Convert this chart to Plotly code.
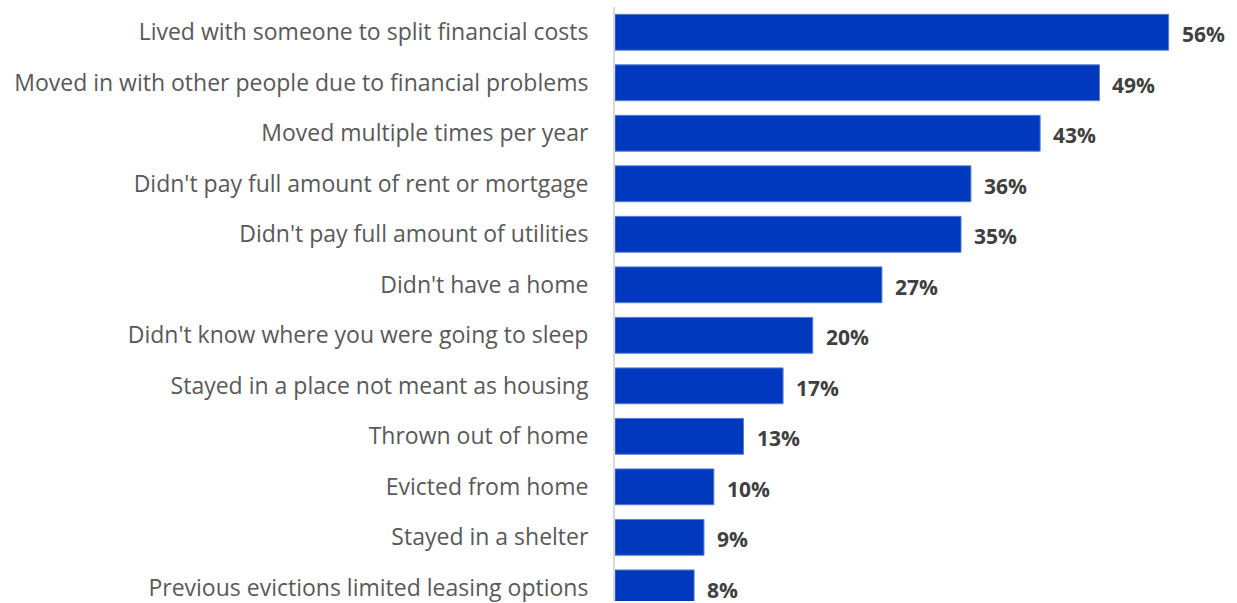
import plotly.graph_objects as go

BAR_COLOR = "#0039BD"
LABEL_COLOR = "#595959"
VALUE_COLOR = "#404040"
FONT = "Open Sans"

categories = [
    "Lived with someone to split financial costs",
    "Moved in with other people due to financial problems",
    "Moved multiple times per year",
    "Didn't pay full amount of rent or mortgage",
    "Didn't pay full amount of utilities",
    "Didn't have a home",
    "Didn't know where you were going to sleep",
    "Stayed in a place not meant as housing",
    "Thrown out of home",
    "Evicted from home",
    "Stayed in a shelter",
    "Previous evictions limited leasing options",
]
values = [56, 49, 43, 36, 35, 27, 20, 17, 13, 10, 9, 8]
value_labels = [f"{v}%" for v in values]

fig = go.Figure(
    go.Bar(
        x=values,
        y=categories,
        orientation="h",
        marker=dict(color=BAR_COLOR, line=dict(color="#5B7FD6", width=1)),
        hoverinfo="skip",
    )
)

# value labels sit a little to the right of each bar end
for cat, v, lab in zip(categories, values, value_labels):
    fig.add_annotation(
        x=v, y=cat, text=f"<b>{lab}</b>", showarrow=False,
        xanchor="left", xshift=11, yshift=-2,
        font=dict(family=FONT, size=21, color=VALUE_COLOR),
    )

fig.update_layout(
    width=1237,
    height=603,
    paper_bgcolor="white",
    plot_bgcolor="white",
    showlegend=False,
    bargap=0.29,
    margin=dict(t=7, b=0, l=615, r=10),
    font=dict(family=FONT, size=20, color=LABEL_COLOR),
    xaxis=dict(range=[0, 61.9], visible=False, fixedrange=True),
    yaxis=dict(
        range=[11.26, -0.5],
        showgrid=False,
        showline=True,
        linecolor="#D9D9D9",
        linewidth=2,
        ticks="",
        ticklabelstandoff=20,
        tickfont=dict(family=FONT, size=23, color=LABEL_COLOR),
        fixedrange=True,
    ),
)

# the page body has a default 8px margin; drop it so the figure fills the window
fig.write_html(
    "out.html",
    config={"displayModeBar": False},
    post_script="document.body.style.margin='0';",
)
